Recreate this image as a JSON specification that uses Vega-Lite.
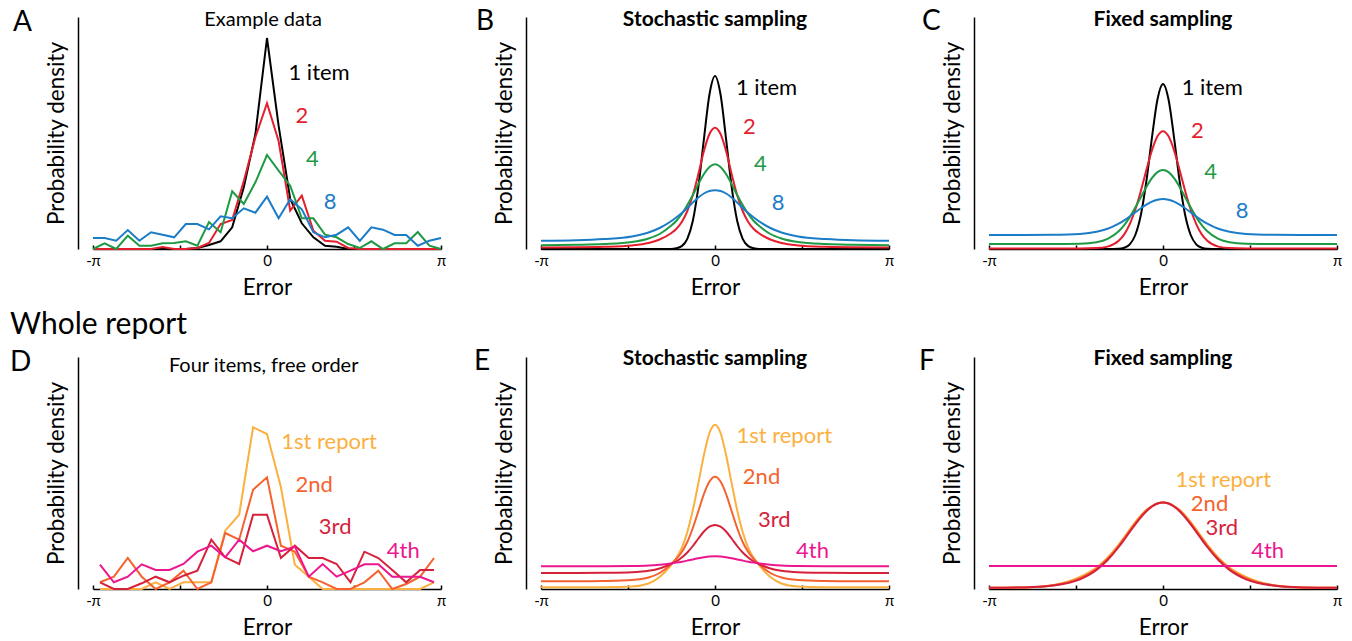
{
  "$schema": "https://vega.github.io/schema/vega-lite/v6.json",
  "background": "white",
  "padding": {"left": 10, "top": 8, "right": 5, "bottom": 2},
  "columns": 3,
  "bounds": "flush",
  "spacing": {"row": 108, "column": 100},
  "datasets": {
    "A": [
      {"x":-3.1416,"n1":0,"n2":0,"n4":0,"n8":11},
      {"x":-2.9322,"n1":0,"n2":0,"n4":5.7,"n8":11},
      {"x":-2.7227,"n1":0,"n2":0,"n4":0,"n8":8.3},
      {"x":-2.5133,"n1":0,"n2":0,"n4":13.3,"n8":19},
      {"x":-2.3038,"n1":0,"n2":0,"n4":3.3,"n8":8.3},
      {"x":-2.0944,"n1":0,"n2":0,"n4":3.3,"n8":16.7},
      {"x":-1.885,"n1":0,"n2":2,"n4":5.7,"n8":14.3},
      {"x":-1.6755,"n1":0,"n2":0,"n4":6,"n8":11.7},
      {"x":-1.4661,"n1":0,"n2":0,"n4":7.7,"n8":25},
      {"x":-1.2566,"n1":1,"n2":1,"n4":3.3,"n8":25},
      {"x":-1.0472,"n1":4,"n2":6,"n4":27,"n8":19.7},
      {"x":-0.8378,"n1":7.7,"n2":25,"n4":16.7,"n8":32.7},
      {"x":-0.6283,"n1":21.7,"n2":29,"n4":57.7,"n8":30.7},
      {"x":-0.4189,"n1":61.7,"n2":68,"n4":45,"n8":40.7},
      {"x":-0.2094,"n1":115,"n2":111.7,"n4":66.7,"n8":36.3},
      {"x":0,"n1":211,"n2":145.7,"n4":94,"n8":52.3},
      {"x":0.2094,"n1":123.3,"n2":108,"n4":78.3,"n8":30.7},
      {"x":0.4189,"n1":50,"n2":38.3,"n4":63.3,"n8":49.7},
      {"x":0.6283,"n1":25.7,"n2":53.3,"n4":30.7,"n8":39.7},
      {"x":0.8378,"n1":11.7,"n2":18.3,"n4":30.7,"n8":16.7},
      {"x":1.0472,"n1":3.3,"n2":8.3,"n4":14.3,"n8":11.7},
      {"x":1.2566,"n1":2.3,"n2":7.3,"n4":11.7,"n8":14.3},
      {"x":1.4661,"n1":0,"n2":1,"n4":5,"n8":21.7},
      {"x":1.6755,"n1":0,"n2":0,"n4":1,"n8":8},
      {"x":1.885,"n1":0,"n2":0,"n4":7.7,"n8":21.7},
      {"x":2.0944,"n1":0,"n2":0,"n4":0,"n8":19.3},
      {"x":2.3038,"n1":0,"n2":0,"n4":5.7,"n8":14},
      {"x":2.5133,"n1":0,"n2":0,"n4":5.7,"n8":14},
      {"x":2.7227,"n1":0,"n2":0,"n4":17,"n8":3.3},
      {"x":2.9322,"n1":0,"n2":0,"n4":3.3,"n8":8.3},
      {"x":3.1416,"n1":0,"n2":0,"n4":0,"n8":11}
    ],
    "B": [
      {"x":-3.1416,"n1":0,"n2":1.5,"n4":3.7,"n8":8.3},
      {"x":-2.5,"n1":0,"n2":1.7,"n4":4.2,"n8":8.8},
      {"x":-2.0,"n1":0,"n2":2.2,"n4":5,"n8":10},
      {"x":-1.5,"n1":0,"n2":3.6,"n4":7,"n8":12.5},
      {"x":-1.2,"n1":0,"n2":6,"n4":10.5,"n8":16.5},
      {"x":-1.0,"n1":0,"n2":9.5,"n4":15,"n8":21},
      {"x":-0.8,"n1":0.1,"n2":15.5,"n4":23,"n8":27.5},
      {"x":-0.7,"n1":0.7,"n2":20,"n4":28,"n8":31.5},
      {"x":-0.6,"n1":2.9,"n2":27,"n4":35,"n8":36},
      {"x":-0.5,"n1":10.2,"n2":38,"n4":44,"n8":41},
      {"x":-0.4,"n1":28.2,"n2":54,"n4":54,"n8":46.5},
      {"x":-0.3,"n1":62.4,"n2":75,"n4":65,"n8":51.5},
      {"x":-0.2,"n1":109.9,"n2":98,"n4":75,"n8":55.5},
      {"x":-0.1,"n1":154.5,"n2":115,"n4":82,"n8":58},
      {"x":0,"n1":173,"n2":121.3,"n4":84.7,"n8":58.7},
      {"x":0.1,"n1":154.5,"n2":115,"n4":82,"n8":58},
      {"x":0.2,"n1":109.9,"n2":98,"n4":75,"n8":55.5},
      {"x":0.3,"n1":62.4,"n2":75,"n4":65,"n8":51.5},
      {"x":0.4,"n1":28.2,"n2":54,"n4":54,"n8":46.5},
      {"x":0.5,"n1":10.2,"n2":38,"n4":44,"n8":41},
      {"x":0.6,"n1":2.9,"n2":27,"n4":35,"n8":36},
      {"x":0.7,"n1":0.7,"n2":20,"n4":28,"n8":31.5},
      {"x":0.8,"n1":0.1,"n2":15.5,"n4":23,"n8":27.5},
      {"x":1.0,"n1":0,"n2":9.5,"n4":15,"n8":21},
      {"x":1.2,"n1":0,"n2":6,"n4":10.5,"n8":16.5},
      {"x":1.5,"n1":0,"n2":3.6,"n4":7,"n8":12.5},
      {"x":2.0,"n1":0,"n2":2.2,"n4":5,"n8":10},
      {"x":2.5,"n1":0,"n2":1.7,"n4":4.2,"n8":8.8},
      {"x":3.1416,"n1":0,"n2":1.5,"n4":3.7,"n8":8.3}
    ],
    "C": [
      {"x":-3.1416,"n1":0,"n2":0.5,"n4":5,"n8":14},
      {"x":-2.5,"n1":0,"n2":0.5,"n4":5,"n8":14},
      {"x":-2.0,"n1":0,"n2":0.5,"n4":5,"n8":14.2},
      {"x":-1.5,"n1":0,"n2":0.5,"n4":5.3,"n8":15.1},
      {"x":-1.2,"n1":0,"n2":0.9,"n4":6.8,"n8":17.2},
      {"x":-1.0,"n1":0,"n2":2.4,"n4":10.1,"n8":20.3},
      {"x":-0.8,"n1":0.2,"n2":8.2,"n4":17.7,"n8":25.4},
      {"x":-0.7,"n1":1.3,"n2":14.6,"n4":23.9,"n8":28.7},
      {"x":-0.6,"n1":4.7,"n2":24.9,"n4":31.9,"n8":32.5},
      {"x":-0.5,"n1":14,"n2":39.5,"n4":41.4,"n8":36.6},
      {"x":-0.4,"n1":34,"n2":58.1,"n4":51.8,"n8":40.7},
      {"x":-0.3,"n1":67.8,"n2":79,"n4":62.1,"n8":44.4},
      {"x":-0.2,"n1":111.2,"n2":98.6,"n4":70.9,"n8":47.4},
      {"x":-0.1,"n1":149.5,"n2":112.7,"n4":76.9,"n8":49.3},
      {"x":0,"n1":165,"n2":117.8,"n4":79,"n8":50},
      {"x":0.1,"n1":149.5,"n2":112.7,"n4":76.9,"n8":49.3},
      {"x":0.2,"n1":111.2,"n2":98.6,"n4":70.9,"n8":47.4},
      {"x":0.3,"n1":67.8,"n2":79,"n4":62.1,"n8":44.4},
      {"x":0.4,"n1":34,"n2":58.1,"n4":51.8,"n8":40.7},
      {"x":0.5,"n1":14,"n2":39.5,"n4":41.4,"n8":36.6},
      {"x":0.6,"n1":4.7,"n2":24.9,"n4":31.9,"n8":32.5},
      {"x":0.7,"n1":1.3,"n2":14.6,"n4":23.9,"n8":28.7},
      {"x":0.8,"n1":0.2,"n2":8.2,"n4":17.7,"n8":25.4},
      {"x":1.0,"n1":0,"n2":2.4,"n4":10.1,"n8":20.3},
      {"x":1.2,"n1":0,"n2":0.9,"n4":6.8,"n8":17.2},
      {"x":1.5,"n1":0,"n2":0.5,"n4":5.3,"n8":15.1},
      {"x":2.0,"n1":0,"n2":0.5,"n4":5,"n8":14.2},
      {"x":2.5,"n1":0,"n2":0.5,"n4":5,"n8":14},
      {"x":3.1416,"n1":0,"n2":0.5,"n4":5,"n8":14}
    ],
    "D": [
      {"x":-3.0159,"r1":0,"r2":6.7,"r3":6.7,"r4":24.3},
      {"x":-2.7646,"r1":0,"r2":12.3,"r3":0,"r4":6.7},
      {"x":-2.5133,"r1":0,"r2":31,"r3":0,"r4":12.3},
      {"x":-2.2619,"r1":0,"r2":12.3,"r3":5.7,"r4":24.7},
      {"x":-2.0106,"r1":6.7,"r2":0,"r3":12.3,"r4":19},
      {"x":-1.7593,"r1":0,"r2":6.7,"r3":6.7,"r4":19},
      {"x":-1.508,"r1":6.7,"r2":18.3,"r3":13.3,"r4":25},
      {"x":-1.2566,"r1":6.7,"r2":0,"r3":18.3,"r4":37.3},
      {"x":-1.0053,"r1":6.7,"r2":6.7,"r3":49.3,"r4":43.3},
      {"x":-0.754,"r1":58.3,"r2":56,"r3":31.7,"r4":31.7},
      {"x":-0.5027,"r1":74.3,"r2":49.3,"r3":25,"r4":49.3},
      {"x":-0.2513,"r1":161.7,"r2":99.3,"r3":74.3,"r4":37.7},
      {"x":0,"r1":155,"r2":111.7,"r3":74.3,"r4":43.3},
      {"x":0.2513,"r1":101.7,"r2":43.3,"r3":31,"r4":37.7},
      {"x":0.5027,"r1":24.3,"r2":37.3,"r3":43.3,"r4":42.3},
      {"x":0.754,"r1":12.3,"r2":12.3,"r3":31,"r4":12.3},
      {"x":1.0053,"r1":0,"r2":6.7,"r3":31,"r4":25},
      {"x":1.2566,"r1":0,"r2":0,"r3":25,"r4":12.3},
      {"x":1.508,"r1":0,"r2":0,"r3":6.7,"r4":18.3},
      {"x":1.7593,"r1":0,"r2":6.7,"r3":37.3,"r4":24.7},
      {"x":2.0106,"r1":0,"r2":18.3,"r3":31,"r4":24.7},
      {"x":2.2619,"r1":0,"r2":0,"r3":19,"r4":12.3},
      {"x":2.5133,"r1":0,"r2":5,"r3":6.7,"r4":12.3},
      {"x":2.7646,"r1":0,"r2":12.3,"r3":19,"r4":12.3},
      {"x":3.0159,"r1":6.7,"r2":31,"r3":19,"r4":6.7}
    ],
    "E": [
      {"x":-3.1416,"r1":1.7,"r2":7.7,"r3":16,"r4":22.7},
      {"x":-2.5,"r1":1.7,"r2":7.7,"r3":16,"r4":22.7},
      {"x":-2.0,"r1":1.8,"r2":8,"r3":16.2,"r4":22.7},
      {"x":-1.5,"r1":2.5,"r2":9,"r3":16.8,"r4":22.9},
      {"x":-1.2,"r1":5.5,"r2":11.5,"r3":18.2,"r4":23.4},
      {"x":-1.0,"r1":12,"r2":16,"r3":20.5,"r4":24.3},
      {"x":-0.8,"r1":23.5,"r2":24.5,"r3":24.8,"r4":25.6},
      {"x":-0.7,"r1":31,"r2":30,"r3":27.5,"r4":26.4},
      {"x":-0.6,"r1":41,"r2":37,"r3":31.5,"r4":27.3},
      {"x":-0.5,"r1":57,"r2":47,"r3":36.5,"r4":28.4},
      {"x":-0.4,"r1":79,"r2":61,"r3":43,"r4":29.6},
      {"x":-0.3,"r1":106,"r2":78,"r3":50.5,"r4":30.8},
      {"x":-0.2,"r1":134,"r2":95,"r3":57.5,"r4":31.8},
      {"x":-0.1,"r1":156,"r2":107.5,"r3":62.3,"r4":32.5},
      {"x":0,"r1":164.3,"r2":112.3,"r3":64,"r4":32.7},
      {"x":0.1,"r1":156,"r2":107.5,"r3":62.3,"r4":32.5},
      {"x":0.2,"r1":134,"r2":95,"r3":57.5,"r4":31.8},
      {"x":0.3,"r1":106,"r2":78,"r3":50.5,"r4":30.8},
      {"x":0.4,"r1":79,"r2":61,"r3":43,"r4":29.6},
      {"x":0.5,"r1":57,"r2":47,"r3":36.5,"r4":28.4},
      {"x":0.6,"r1":41,"r2":37,"r3":31.5,"r4":27.3},
      {"x":0.7,"r1":31,"r2":30,"r3":27.5,"r4":26.4},
      {"x":0.8,"r1":23.5,"r2":24.5,"r3":24.8,"r4":25.6},
      {"x":1.0,"r1":12,"r2":16,"r3":20.5,"r4":24.3},
      {"x":1.2,"r1":5.5,"r2":11.5,"r3":18.2,"r4":23.4},
      {"x":1.5,"r1":2.5,"r2":9,"r3":16.8,"r4":22.9},
      {"x":2.0,"r1":1.8,"r2":8,"r3":16.2,"r4":22.7},
      {"x":2.5,"r1":1.7,"r2":7.7,"r3":16,"r4":22.7},
      {"x":3.1416,"r1":1.7,"r2":7.7,"r3":16,"r4":22.7}
    ],
    "F": [
      {"x":-3.1416,"r1":1.2,"r2":1.2,"r3":1.2,"r4":23},
      {"x":-2.5,"r1":1.6,"r2":1.6,"r3":1.6,"r4":23},
      {"x":-2.0,"r1":3.8,"r2":3.6,"r3":3.4,"r4":23},
      {"x":-1.5,"r1":12.1,"r2":10.9,"r3":9.7,"r4":23},
      {"x":-1.2,"r1":21.5,"r2":20.3,"r3":19.1,"r4":23},
      {"x":-1.0,"r1":31.4,"r2":30.2,"r3":29,"r4":23},
      {"x":-0.8,"r1":44.4,"r2":43.2,"r3":42,"r4":23},
      {"x":-0.7,"r1":51.8,"r2":50.6,"r3":49.4,"r4":23},
      {"x":-0.6,"r1":59.5,"r2":58.3,"r3":57.1,"r4":23},
      {"x":-0.5,"r1":67,"r2":65.8,"r3":64.6,"r4":23},
      {"x":-0.4,"r1":73.6,"r2":72.6,"r3":71.6,"r4":23},
      {"x":-0.3,"r1":79.3,"r2":78.5,"r3":77.7,"r4":23},
      {"x":-0.2,"r1":83,"r2":82.7,"r3":82.5,"r4":23},
      {"x":-0.1,"r1":85.6,"r2":85.5,"r3":85.5,"r4":23},
      {"x":0,"r1":86.5,"r2":86.5,"r3":86.5,"r4":23},
      {"x":0.1,"r1":85.6,"r2":85.5,"r3":85.5,"r4":23},
      {"x":0.2,"r1":83,"r2":82.7,"r3":82.5,"r4":23},
      {"x":0.3,"r1":79.3,"r2":78.5,"r3":77.7,"r4":23},
      {"x":0.4,"r1":73.6,"r2":72.6,"r3":71.6,"r4":23},
      {"x":0.5,"r1":67,"r2":65.8,"r3":64.6,"r4":23},
      {"x":0.6,"r1":59.5,"r2":58.3,"r3":57.1,"r4":23},
      {"x":0.7,"r1":51.8,"r2":50.6,"r3":49.4,"r4":23},
      {"x":0.8,"r1":44.4,"r2":43.2,"r3":42,"r4":23},
      {"x":1.0,"r1":31.4,"r2":30.2,"r3":29,"r4":23},
      {"x":1.2,"r1":21.5,"r2":20.3,"r3":19.1,"r4":23},
      {"x":1.5,"r1":12.1,"r2":10.9,"r3":9.7,"r4":23},
      {"x":2.0,"r1":3.8,"r2":3.6,"r3":3.4,"r4":23},
      {"x":2.5,"r1":1.6,"r2":1.6,"r3":1.6,"r4":23},
      {"x":3.1416,"r1":1.2,"r2":1.2,"r3":1.2,"r4":23}
    ]
  },
  "concat": [
    {
      "width": 348, "height": 232,
      "title": {"text": "A", "dx": -80, "offset": -26.6},
      "layer": [
        {
          "data": {"name": "A"},
          "transform": [{"fold": ["n1","n2","n4","n8"], "as": ["s","v"]}],
          "mark": {"type": "line", "strokeWidth": 2},
          "encoding": {
            "x": {"field": "x", "type": "quantitative", "scale": {"domain": [-3.14159265, 3.14159265], "nice": false, "zero": false},
                  "axis": {"values": [-3.14159265, -1.5707963, 0, 1.5707963, 3.14159265], "labelExpr": "datum.value < -3 ? '-π' : (datum.value > 3 ? 'π' : (abs(datum.value) < 0.01 ? '0' : ''))", "title": "Error"}},
            "y": {"field": "v", "type": "quantitative", "scale": {"domain": [0, 232], "nice": false}, "axis": {"title": "Probability density"}},
            "color": {"field": "s", "type": "nominal", "legend": null,
                      "scale": {"domain": ["n1","n2","n4","n8","r1","r2","r3","r4"], "range": ["#000000","#e41e2d","#1e9a45","#1b7cc8","#fbb040","#f5622e","#d6213a","#ec178f"]}}
          }
        },
        {
          "data": {"values": [
            {"x": 0.94, "v": 176, "t": "1 item", "s": "n1"},
            {"x": 0.63, "v": 133, "t": "2", "s": "n2"},
            {"x": 0.82, "v": 90, "t": "4", "s": "n4"},
            {"x": 1.14, "v": 46.6, "t": "8", "s": "n8"}
          ]},
          "mark": {"type": "text", "fontSize": 22, "align": "center", "baseline": "middle"},
          "encoding": {
            "x": {"field": "x", "type": "quantitative"},
            "y": {"field": "v", "type": "quantitative"},
            "text": {"field": "t"},
            "color": {"field": "s", "type": "nominal", "legend": null}
          }
        },
        {
          "data": {"values": [{}]},
          "mark": {"type": "text", "fontSize": 20, "align": "center", "baseline": "alphabetic", "color": "black", "text": "Example data"},
          "encoding": {"x": {"datum": -0.07, "type": "quantitative"}, "y": {"datum": 223, "type": "quantitative"}}
        }
      ]
    },
    {
      "width": 348, "height": 232,
      "title": {"text": "B", "dx": -65, "offset": -27.7},
      "layer": [
        {
          "data": {"name": "B"},
          "transform": [{"fold": ["n1","n2","n4","n8"], "as": ["s","v"]}],
          "mark": {"type": "line", "strokeWidth": 2, "interpolate": "monotone"},
          "encoding": {
            "x": {"field": "x", "type": "quantitative", "scale": {"domain": [-3.14159265, 3.14159265], "nice": false, "zero": false},
                  "axis": {"values": [-3.14159265, -1.5707963, 0, 1.5707963, 3.14159265], "labelExpr": "datum.value < -3 ? '-π' : (datum.value > 3 ? 'π' : (abs(datum.value) < 0.01 ? '0' : ''))", "title": "Error"}},
            "y": {"field": "v", "type": "quantitative", "scale": {"domain": [0, 232], "nice": false}, "axis": {"title": "Probability density"}},
            "color": {"field": "s", "type": "nominal", "legend": null,
                      "scale": {"domain": ["n1","n2","n4","n8","r1","r2","r3","r4"], "range": ["#000000","#e41e2d","#1e9a45","#1b7cc8","#fbb040","#f5622e","#d6213a","#ec178f"]}}
          }
        },
        {
          "data": {"values": [
            {"x": 0.93, "v": 161, "t": "1 item", "s": "n1"},
            {"x": 0.62, "v": 122.3, "t": "2", "s": "n2"},
            {"x": 0.82, "v": 85, "t": "4", "s": "n4"},
            {"x": 1.14, "v": 46, "t": "8", "s": "n8"}
          ]},
          "mark": {"type": "text", "fontSize": 22, "align": "center", "baseline": "middle"},
          "encoding": {
            "x": {"field": "x", "type": "quantitative"},
            "y": {"field": "v", "type": "quantitative"},
            "text": {"field": "t"},
            "color": {"field": "s", "type": "nominal", "legend": null}
          }
        },
        {
          "data": {"values": [{}]},
          "mark": {"type": "text", "fontSize": 21, "fontWeight": "bold", "align": "center", "baseline": "alphabetic", "color": "black", "text": "Stochastic sampling"},
          "encoding": {"x": {"datum": 0, "type": "quantitative"}, "y": {"datum": 223.3, "type": "quantitative"}}
        }
      ]
    },
    {
      "width": 348, "height": 232,
      "title": {"text": "C", "dx": -67, "offset": -27.7},
      "layer": [
        {
          "data": {"name": "C"},
          "transform": [{"fold": ["n1","n2","n4","n8"], "as": ["s","v"]}],
          "mark": {"type": "line", "strokeWidth": 2, "interpolate": "monotone"},
          "encoding": {
            "x": {"field": "x", "type": "quantitative", "scale": {"domain": [-3.14159265, 3.14159265], "nice": false, "zero": false},
                  "axis": {"values": [-3.14159265, -1.5707963, 0, 1.5707963, 3.14159265], "labelExpr": "datum.value < -3 ? '-π' : (datum.value > 3 ? 'π' : (abs(datum.value) < 0.01 ? '0' : ''))", "title": "Error"}},
            "y": {"field": "v", "type": "quantitative", "scale": {"domain": [0, 232], "nice": false}, "axis": {"title": "Probability density"}},
            "color": {"field": "s", "type": "nominal", "legend": null,
                      "scale": {"domain": ["n1","n2","n4","n8","r1","r2","r3","r4"], "range": ["#000000","#e41e2d","#1e9a45","#1b7cc8","#fbb040","#f5622e","#d6213a","#ec178f"]}}
          }
        },
        {
          "data": {"values": [
            {"x": 0.89, "v": 161, "t": "1 item", "s": "n1"},
            {"x": 0.62, "v": 118.3, "t": "2", "s": "n2"},
            {"x": 0.86, "v": 76.6, "t": "4", "s": "n4"},
            {"x": 1.43, "v": 37.6, "t": "8", "s": "n8"}
          ]},
          "mark": {"type": "text", "fontSize": 22, "align": "center", "baseline": "middle"},
          "encoding": {
            "x": {"field": "x", "type": "quantitative"},
            "y": {"field": "v", "type": "quantitative"},
            "text": {"field": "t"},
            "color": {"field": "s", "type": "nominal", "legend": null}
          }
        },
        {
          "data": {"values": [{}]},
          "mark": {"type": "text", "fontSize": 21, "fontWeight": "bold", "align": "center", "baseline": "alphabetic", "color": "black", "text": "Fixed sampling"},
          "encoding": {"x": {"datum": 0, "type": "quantitative"}, "y": {"datum": 223.3, "type": "quantitative"}}
        }
      ]
    },
    {
      "width": 348, "height": 232,
      "title": {"text": "Whole report", "subtitle": "D", "dx": -83, "offset": -20.2, "fontSize": 30, "subtitleFontSize": 28, "subtitlePadding": 9, "subtitleFont": "Lato", "subtitleColor": "black"},
      "layer": [
        {
          "data": {"name": "D"},
          "transform": [{"fold": ["r1","r2","r3","r4"], "as": ["s","v"]}],
          "mark": {"type": "line", "strokeWidth": 2},
          "encoding": {
            "x": {"field": "x", "type": "quantitative", "scale": {"domain": [-3.14159265, 3.14159265], "nice": false, "zero": false},
                  "axis": {"values": [-3.14159265, -1.5707963, 0, 1.5707963, 3.14159265], "labelExpr": "datum.value < -3 ? '-π' : (datum.value > 3 ? 'π' : (abs(datum.value) < 0.01 ? '0' : ''))", "title": "Error"}},
            "y": {"field": "v", "type": "quantitative", "scale": {"domain": [0, 232], "nice": false}, "axis": {"title": "Probability density"}},
            "color": {"field": "s", "type": "nominal", "legend": null,
                      "scale": {"domain": ["n1","n2","n4","n8","r1","r2","r3","r4"], "range": ["#000000","#e41e2d","#1e9a45","#1b7cc8","#fbb040","#f5622e","#d6213a","#ec178f"]}}
          }
        },
        {
          "data": {"values": [
            {"x": 1.12, "v": 146.6, "t": "1st report", "s": "r1"},
            {"x": 0.85, "v": 104.3, "t": "2nd", "s": "r2"},
            {"x": 1.23, "v": 62.3, "t": "3rd", "s": "r3"},
            {"x": 2.46, "v": 38.3, "t": "4th", "s": "r4"}
          ]},
          "mark": {"type": "text", "fontSize": 22, "align": "center", "baseline": "middle"},
          "encoding": {
            "x": {"field": "x", "type": "quantitative"},
            "y": {"field": "v", "type": "quantitative"},
            "text": {"field": "t"},
            "color": {"field": "s", "type": "nominal", "legend": null}
          }
        },
        {
          "data": {"values": [{}]},
          "mark": {"type": "text", "fontSize": 20, "align": "center", "baseline": "alphabetic", "color": "black", "text": "Four items, free order"},
          "encoding": {"x": {"datum": -0.06, "type": "quantitative"}, "y": {"datum": 216.6, "type": "quantitative"}}
        }
      ]
    },
    {
      "width": 348, "height": 232,
      "title": {"text": "E", "dx": -67, "offset": -28.4},
      "layer": [
        {
          "data": {"name": "E"},
          "transform": [{"fold": ["r1","r2","r3","r4"], "as": ["s","v"]}],
          "mark": {"type": "line", "strokeWidth": 2, "interpolate": "monotone"},
          "encoding": {
            "x": {"field": "x", "type": "quantitative", "scale": {"domain": [-3.14159265, 3.14159265], "nice": false, "zero": false},
                  "axis": {"values": [-3.14159265, -1.5707963, 0, 1.5707963, 3.14159265], "labelExpr": "datum.value < -3 ? '-π' : (datum.value > 3 ? 'π' : (abs(datum.value) < 0.01 ? '0' : ''))", "title": "Error"}},
            "y": {"field": "v", "type": "quantitative", "scale": {"domain": [0, 232], "nice": false}, "axis": {"title": "Probability density"}},
            "color": {"field": "s", "type": "nominal", "legend": null,
                      "scale": {"domain": ["n1","n2","n4","n8","r1","r2","r3","r4"], "range": ["#000000","#e41e2d","#1e9a45","#1b7cc8","#fbb040","#f5622e","#d6213a","#ec178f"]}}
          }
        },
        {
          "data": {"values": [
            {"x": 1.25, "v": 153.3, "t": "1st report", "s": "r1"},
            {"x": 0.84, "v": 112.3, "t": "2nd", "s": "r2"},
            {"x": 1.07, "v": 69.3, "t": "3rd", "s": "r3"},
            {"x": 1.76, "v": 38.3, "t": "4th", "s": "r4"}
          ]},
          "mark": {"type": "text", "fontSize": 22, "align": "center", "baseline": "middle"},
          "encoding": {
            "x": {"field": "x", "type": "quantitative"},
            "y": {"field": "v", "type": "quantitative"},
            "text": {"field": "t"},
            "color": {"field": "s", "type": "nominal", "legend": null}
          }
        },
        {
          "data": {"values": [{}]},
          "mark": {"type": "text", "fontSize": 21, "fontWeight": "bold", "align": "center", "baseline": "alphabetic", "color": "black", "text": "Stochastic sampling"},
          "encoding": {"x": {"datum": 0, "type": "quantitative"}, "y": {"datum": 224, "type": "quantitative"}}
        }
      ]
    },
    {
      "width": 348, "height": 232,
      "title": {"text": "F", "dx": -70, "offset": -28.4},
      "layer": [
        {
          "data": {"name": "F"},
          "transform": [{"fold": ["r1","r2","r3","r4"], "as": ["s","v"]}],
          "mark": {"type": "line", "strokeWidth": 2, "interpolate": "monotone"},
          "encoding": {
            "x": {"field": "x", "type": "quantitative", "scale": {"domain": [-3.14159265, 3.14159265], "nice": false, "zero": false},
                  "axis": {"values": [-3.14159265, -1.5707963, 0, 1.5707963, 3.14159265], "labelExpr": "datum.value < -3 ? '-π' : (datum.value > 3 ? 'π' : (abs(datum.value) < 0.01 ? '0' : ''))", "title": "Error"}},
            "y": {"field": "v", "type": "quantitative", "scale": {"domain": [0, 232], "nice": false}, "axis": {"title": "Probability density"}},
            "color": {"field": "s", "type": "nominal", "legend": null,
                      "scale": {"domain": ["n1","n2","n4","n8","r1","r2","r3","r4"], "range": ["#000000","#e41e2d","#1e9a45","#1b7cc8","#fbb040","#f5622e","#d6213a","#ec178f"]}}
          }
        },
        {
          "data": {"values": [
            {"x": 1.09, "v": 108.8, "t": "1st report", "s": "r1"},
            {"x": 0.84, "v": 85, "t": "2nd", "s": "r2"},
            {"x": 1.06, "v": 61.2, "t": "3rd", "s": "r3"},
            {"x": 1.89, "v": 37.6, "t": "4th", "s": "r4"}
          ]},
          "mark": {"type": "text", "fontSize": 22, "align": "center", "baseline": "middle"},
          "encoding": {
            "x": {"field": "x", "type": "quantitative"},
            "y": {"field": "v", "type": "quantitative"},
            "text": {"field": "t"},
            "color": {"field": "s", "type": "nominal", "legend": null}
          }
        },
        {
          "data": {"values": [{}]},
          "mark": {"type": "text", "fontSize": 21, "fontWeight": "bold", "align": "center", "baseline": "alphabetic", "color": "black", "text": "Fixed sampling"},
          "encoding": {"x": {"datum": 0, "type": "quantitative"}, "y": {"datum": 224, "type": "quantitative"}}
        }
      ]
    }
  ],
  "config": {
    "font": "Lato",
    "view": {"stroke": null},
    "title": {"font": "Lato", "fontSize": 28, "fontWeight": "normal", "anchor": "start", "frame": "group", "offset": -20, "color": "black"},
    "text": {"font": "Lato"},
    "axis": {"domainColor": "black", "domainWidth": 1.5, "tickColor": "black", "tickWidth": 1.5, "labelColor": "black", "titleColor": "black", "labelFont": "Lato", "titleFont": "Lato", "titleFontSize": 22.5, "titleFontWeight": "normal", "grid": false},
    "axisX": {"tickSize": -4, "labelPadding": 8, "labelFontSize": 15, "labelFlush": false, "labelOverlap": false, "labelBound": false, "titlePadding": 8},
    "axisY": {"offset": 15, "ticks": false, "labels": false, "titlePadding": 10}
  }
}
